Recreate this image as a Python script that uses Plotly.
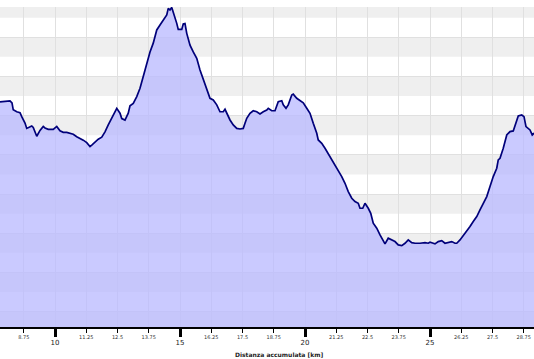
import plotly.graph_objects as go

distance_km = [7.80, 8.20, 8.28, 8.33, 8.47, 8.60, 8.67, 8.73, 8.80, 8.87, 9.00, 9.07, 9.13, 9.27, 9.40, 9.53, 9.60, 9.73, 9.93, 10.07,
               10.20, 10.33, 10.47, 10.60, 10.73, 10.87, 11.00, 11.13, 11.27, 11.40, 11.47, 11.60, 11.73, 11.87, 12.00, 12.13, 12.27, 12.40, 12.47, 12.60,
               12.67, 12.80, 12.93, 13.00, 13.13, 13.27, 13.40, 13.53, 13.67, 13.80, 13.93, 14.07, 14.20, 14.33, 14.47, 14.53, 14.60, 14.67, 14.73, 14.87,
               14.93, 15.07, 15.13, 15.20, 15.27, 15.40, 15.53, 15.67, 15.80, 15.93, 16.07, 16.20, 16.33, 16.47, 16.60, 16.73, 16.80, 16.87, 17.00, 17.13,
               17.27, 17.40, 17.53, 17.60, 17.67, 17.80, 17.93, 18.07, 18.20, 18.33, 18.47, 18.53, 18.67, 18.80, 18.87, 18.93, 19.07, 19.13, 19.24, 19.33,
               19.47, 19.53, 19.67, 19.80, 19.93, 20.07, 20.20, 20.33, 20.47, 20.53, 20.67, 20.80, 20.93, 21.07, 21.20, 21.33, 21.47, 21.60, 21.73, 21.87,
               22.00, 22.13, 22.20, 22.31, 22.40, 22.53, 22.63, 22.73, 22.87, 23.00, 23.13, 23.20, 23.33, 23.47, 23.60, 23.73, 23.87, 24.00, 24.13, 24.27,
               24.40, 24.60, 24.80, 24.93, 25.00, 25.13, 25.20, 25.33, 25.47, 25.60, 25.73, 25.87, 26.00, 26.07, 26.20, 26.33, 26.47, 26.60, 26.73, 26.87,
               27.00, 27.13, 27.27, 27.40, 27.53, 27.67, 27.73, 27.80, 27.93, 28.07, 28.20, 28.33, 28.40, 28.47, 28.53, 28.67, 28.76, 28.84, 28.93, 29.00,
               29.09, 29.16, 29.30]

elevation_m = [514, 515, 513, 506, 504, 503, 499, 496, 492.5, 487, 489, 489.5, 488, 479, 485, 489, 487.5, 486, 486, 489,
               484.5, 483, 483, 482, 481, 478.5, 477, 475, 472.5, 468.5, 470, 473.5, 476, 478, 483.5, 490.5, 497, 504, 507.5, 502.5,
               497, 495.5, 502.5, 510, 512.5, 519.5, 528, 540, 553.5, 565, 574, 587.5, 592.5, 597.5, 602.7, 609.5, 607.8, 610.5, 606, 594.2,
               588, 588, 593.5, 594, 584, 572, 565, 558.5, 546.6, 536.4, 526.2, 517.7, 516, 511, 504, 504, 506.5, 502.5, 495.6, 490.5,
               487, 486.4, 487, 492.2, 497.3, 502.4, 505, 504, 501.7, 504, 505.8, 507.5, 505, 505, 511, 514.3, 515.3, 511, 507.5, 511,
               521, 522, 517.7, 515.3, 513.2, 507.5, 502.4, 492.2, 482, 475.2, 471.8, 466.7, 461, 454.8, 449.7, 444.6, 437.8, 431, 422.5, 415.7,
               412.3, 410.6, 405.5, 405.5, 410.6, 405.5, 400.4, 390.2, 385.1, 378.3, 373.2, 369.1, 374.9, 373.2, 371.5, 368.1, 367.4, 369.8, 373.2, 370.4,
               369.8, 369.8, 370.4, 369.8, 370.8, 369.8, 369.1, 371.5, 372.5, 369.8, 370.8, 371.5, 369.8, 369.8, 373.2, 377.3, 381.7, 386.8, 391.9, 397,
               403.8, 410.6, 417.4, 427.6, 437.8, 446.3, 454.8, 456.5, 466.7, 480.3, 483.7, 484.4, 490.5, 495.6, 499.7, 500.7, 499, 488.8, 487.1, 485.4,
               480.3, 482, 482]

assert len(distance_km) == len(elevation_m), (len(distance_km), len(elevation_m))

minor_ticks = [8.75, 11.25, 12.5, 13.75, 16.25, 17.5, 18.75, 21.25, 22.5, 23.75, 26.25, 27.5, 28.75]
minor_labels = ["8.75", "11.25", "12.5", "13.75", "16.25", "17.5", "18.75", "21.25", "22.5", "23.75", "26.25", "27.5", "28.75"]
major_ticks = [10, 15, 20, 25]
major_labels = ["10", "15", "20", "25"]
x_title = "Distanza accumulata [km]"

X_RANGE = [7.8, 29.16]
Y_RANGE = [284.3, 610.9]
GRID_STEP = 40

all_ticks = sorted(minor_ticks + major_ticks)
all_text = [minor_labels[minor_ticks.index(t)] if t in minor_ticks else "" for t in all_ticks]

fig = go.Figure()
fig.add_trace(go.Scatter(
    x=distance_km, y=elevation_m, mode="lines",
    line=dict(color="#00007a", width=1.7),
    fill="tozeroy", fillcolor="rgba(185,185,255,0.76)",
    hoverinfo="skip", showlegend=False,
))
# invisible trace to activate x2
fig.add_trace(go.Scatter(x=[X_RANGE[0]], y=[Y_RANGE[0]], xaxis="x2", mode="markers",
                         marker=dict(opacity=0), showlegend=False, hoverinfo="skip"))

# alternating gray bands
g = 300
while g - 20 < Y_RANGE[1] + 20:
    fig.add_shape(type="rect", xref="paper", yref="y", x0=0, x1=1, y0=g - 20, y1=g,
                  fillcolor="#efefef", line=dict(width=0), layer="below")
    g += GRID_STEP

font = "DejaVu Sans, Verdana, sans-serif"
fig.update_layout(
    template="none",
    width=534, height=359,
    margin=dict(l=0, r=0, t=7, b=32, pad=0, autoexpand=False),
    paper_bgcolor="white", plot_bgcolor="white",
    xaxis=dict(range=X_RANGE, tickmode="array", tickvals=all_ticks, ticktext=all_text,
               ticks="outside", ticklen=4, tickwidth=1, tickcolor="black",
               tickfont=dict(size=5, color="#333", family=font),
               showgrid=True, gridcolor="#e0e0e0", gridwidth=1, automargin=False,
               showline=True, linecolor="black", linewidth=2, zeroline=False),
    xaxis2=dict(range=X_RANGE, overlaying="x", anchor="y", side="bottom",
                tickmode="array", tickvals=major_ticks, ticktext=major_labels,
                ticks="outside", ticklen=9, tickwidth=3, tickcolor="black",
                tickfont=dict(size=7, color="#222", family=font), automargin=False,
                showgrid=False, showline=False, zeroline=False),
    yaxis=dict(range=Y_RANGE, tick0=300, dtick=GRID_STEP, showticklabels=False, automargin=False,
               ticks="", showgrid=True, gridcolor="#e0e0e0", zeroline=False, showline=False),
    annotations=[dict(text="<b>" + x_title + "</b>", xref="paper", yref="paper",
                      x=279 / 534, y=-27 / 320, xanchor="center", yanchor="middle",
                      showarrow=False, font=dict(size=6, color="#222", family=font))],
)

fig.write_html("out.html", config={"displayModeBar": False, "staticPlot": True},
               post_script="document.body.style.margin='0px';document.body.style.overflow='hidden';")
